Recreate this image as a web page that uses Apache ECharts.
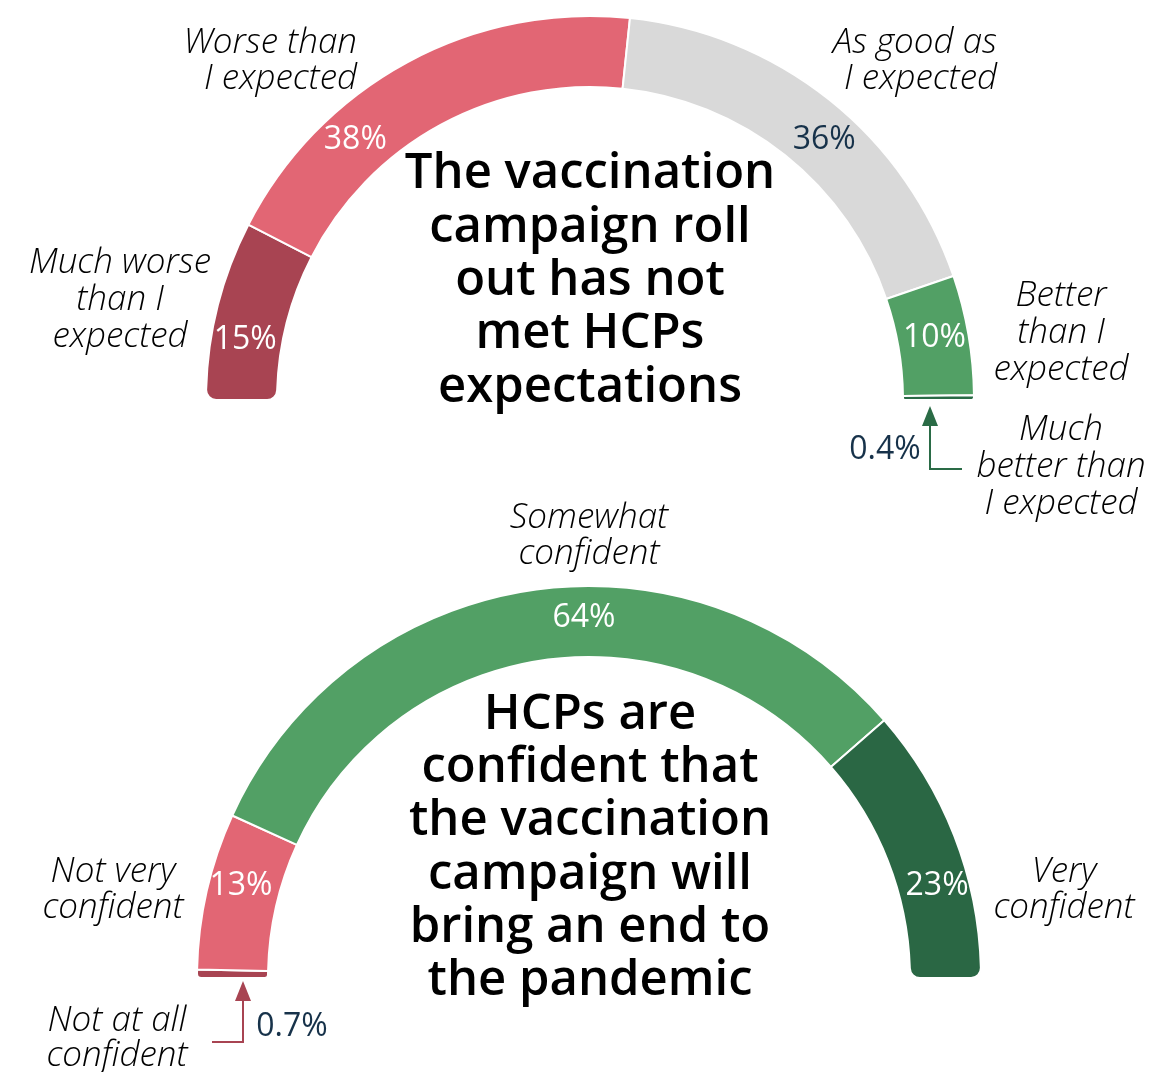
<!DOCTYPE html>
<html>
<head>
<meta charset="utf-8">
<script src="https://cdn.jsdelivr.net/npm/echarts@6/dist/echarts.min.js"></script>
<style>
  html, body { margin: 0; padding: 0; background: #fff; }
  #chart { width: 1171px; height: 1072px; }
</style>
</head>
<body>
<div id="chart"></div>
<script>
// top gauge: how the roll out compared with expectations
var topCategories = ['Much worse than I expected', 'Worse than I expected', 'As good as I expected', 'Better than I expected', 'Much better than I expected'];
var topValues = [15, 38, 36, 10, 0.4];
var topColors = ['#a84452', '#e26674', '#d9d9d9', '#52a065', '#2a6b46'];

// bottom gauge: confidence the campaign ends the pandemic
var bottomCategories = ['Not at all confident', 'Not very confident', 'Somewhat confident', 'Very confident'];
var bottomValues = [0.7, 13, 64, 23];
var bottomColors = ['#a84452', '#e26674', '#52a065', '#2a6744'];

var topTitle = 'The vaccination\ncampaign roll\nout has not\nmet HCPs\nexpectations';
var bottomTitle = 'HCPs are\nconfident that\nthe vaccination\ncampaign will\nbring an end to\nthe pandemic';

var FONT = '"Open Sans", Lato, sans-serif';
var NAVY = '#17324a';
var ITALIC = 'italic 300 35px ' + FONT;

var chart = echarts.init(document.getElementById('chart'), null, { renderer: 'canvas' });

// where the percentage labels sit (angle from the left end, degrees)
function placeLabel(cx, cy, r, angles, outside) {
  return function (p) {
    var i = p.dataIndex;
    if (outside[i]) {
      return { x: outside[i][0], y: outside[i][1], align: 'center', verticalAlign: 'middle' };
    }
    var a = angles[i] * Math.PI / 180;
    return { x: cx - r * Math.cos(a), y: cy - r * Math.sin(a), align: 'center', verticalAlign: 'middle' };
  };
}

function makeData(values, names, colors, textColors, first, last) {
  return values.map(function (v, i) {
    var rad = 0;
    if (i === first) rad = [10, 0, 10, 0];
    if (i === last) rad = [0, 10, 0, 10];
    return {
      value: v,
      name: names[i],
      itemStyle: { color: colors[i], borderRadius: rad },
      label: { color: textColors[i] }
    };
  });
}

var pieBase = {
  type: 'pie',
  startAngle: 180,
  endAngle: 0,
  clockwise: true,
  silent: true,
  avoidLabelOverlap: false,
  itemStyle: { borderColor: '#fff', borderWidth: 2 },
  label: {
    show: true,
    position: 'inside',
    formatter: '{c}%',
    fontFamily: FONT,
    fontSize: 32
  },
  labelLine: { show: false }
};

function label(x, y, text, align, lh) {
  return {
    type: 'text', x: x, y: y,
    style: { text: text, font: ITALIC, fill: '#000', align: align, verticalAlign: 'middle', lineHeight: lh || 36.5 }
  };
}

var option = {
  backgroundColor: '#fff',
  animation: false,
  series: [
    Object.assign({}, pieBase, {
      center: [590, 400],
      radius: [313, 384],
      data: makeData(topValues, topCategories, topColors, ['#fff', '#fff', NAVY, '#fff', NAVY], 0, 4),
      labelLayout: placeLabel(590, 400, 350, [9.9, 47.9, 132, 169.8, 0], { 4: [885, 450] })
    }),
    Object.assign({}, pieBase, {
      center: [589, 978],
      radius: [321, 392],
      data: makeData(bottomValues, bottomCategories, bottomColors, [NAVY, '#fff', '#fff', '#fff'], 0, 3),
      labelLayout: placeLabel(589, 978, 360, [0, 14.8, 89.2, 165.2], { 0: [292, 1027] })
    })
  ],
  graphic: [
    // titles
    { type: 'text', x: 590, y: 281, style: { text: topTitle, font: '600 49px ' + FONT, fill: '#000', align: 'center', verticalAlign: 'middle', lineHeight: 53.3 } },
    { type: 'text', x: 590, y: 848, style: { text: bottomTitle, font: '600 49px ' + FONT, fill: '#000', align: 'center', verticalAlign: 'middle', lineHeight: 53.3 } },
    // category labels, top
    label(357, 61, 'Worse than\nI expected', 'right'),
    label(997, 61, 'As good as\nI expected', 'right'),
    label(120, 300, 'Much worse\nthan I\nexpected', 'center', 37),
    label(1061, 333, 'Better\nthan I\nexpected', 'center', 37),
    label(1061, 467, 'Much\nbetter than\nI expected', 'center', 37),
    // category labels, bottom
    label(589, 536, 'Somewhat\nconfident', 'center'),
    label(113, 890, 'Not very\nconfident', 'center'),
    label(1064, 890, 'Very\nconfident', 'center'),
    label(117, 1039, 'Not at all\nconfident', 'center', 35),
    // arrow to the 0.4% sliver
    { type: 'polyline', shape: { points: [[930, 424], [930, 469], [962, 469]] }, style: { stroke: '#2a6b46', lineWidth: 2, fill: null } },
    { type: 'polygon', shape: { points: [[930, 406], [922, 426], [938, 426]] }, style: { fill: '#2a6b46' } },
    // arrow to the 0.7% sliver
    { type: 'polyline', shape: { points: [[243, 999], [243, 1042], [212, 1042]] }, style: { stroke: '#a84452', lineWidth: 2, fill: null } },
    { type: 'polygon', shape: { points: [[243, 981], [235, 1001], [251, 1001]] }, style: { fill: '#a84452' } }
  ]
};

chart.setOption(option);
</script>
</body>
</html>
